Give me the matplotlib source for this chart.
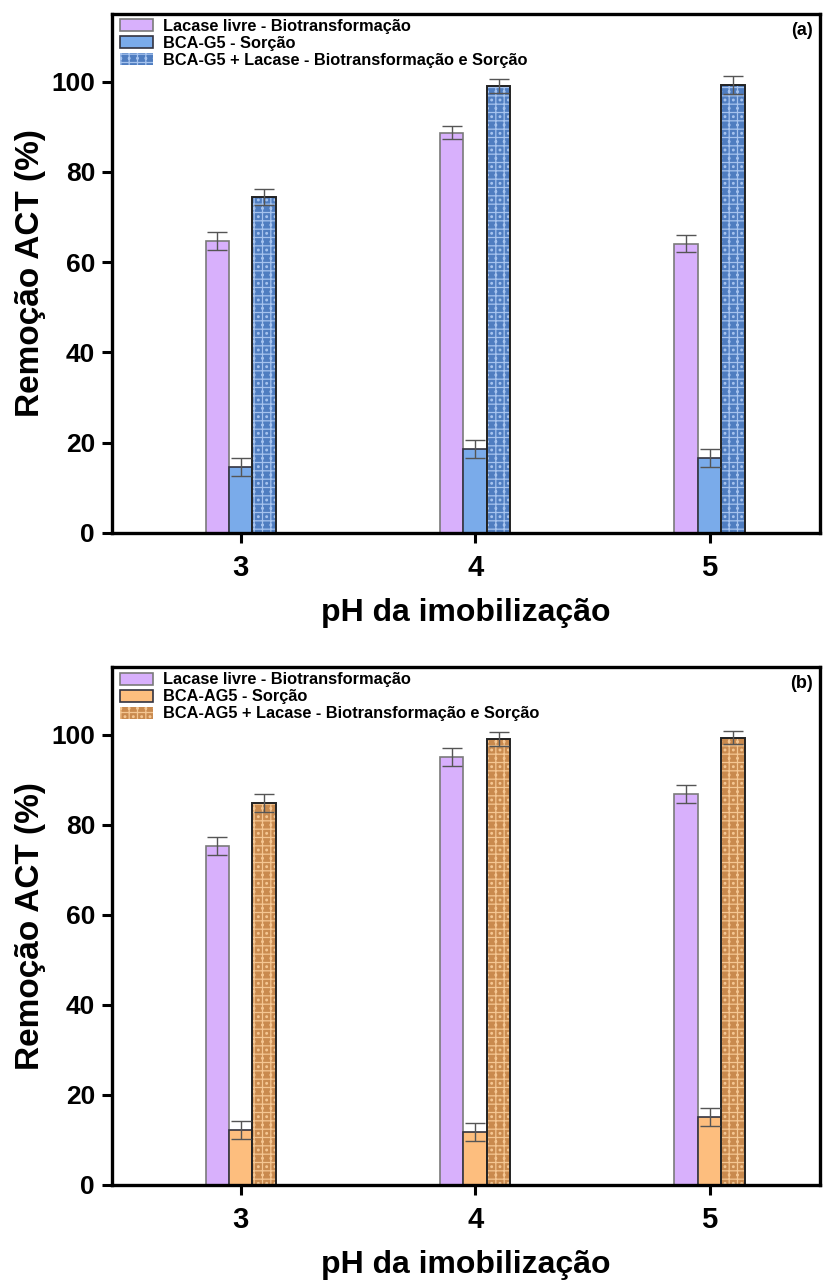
import matplotlib
matplotlib.use("Agg")
import matplotlib.pyplot as plt
import numpy as np

plt.rcParams['font.family'] = ['Liberation Sans', 'DejaVu Sans']
plt.rcParams['font.weight'] = 'bold'
plt.rcParams['hatch.linewidth'] = 0.9

ph = [3, 4, 5]
tick_labels = ['3', '4', '5']

# Panel (a)
lac_a = [64.7, 88.7, 64.1]
lac_a_err = [1.9, 1.4, 1.9]
sor_a = [14.6, 18.6, 16.6]
sor_a_err = [2.0, 1.9, 2.0]
comb_a = [74.5, 99.1, 99.3]
comb_a_err = [1.8, 1.5, 2.0]
labels_a = ['Lacase livre - Biotransformação', 'BCA-G5 - Sorção',
            'BCA-G5 + Lacase - Biotransformação e Sorção']

# Panel (b)
lac_b = [75.4, 95.2, 86.8]
lac_b_err = [2.0, 2.0, 2.0]
sor_b = [12.2, 11.8, 15.0]
sor_b_err = [2.0, 2.0, 2.0]
comb_b = [84.8, 99.1, 99.4]
comb_b_err = [2.0, 1.5, 1.5]
labels_b = ['Lacase livre - Biotransformação', 'BCA-AG5 - Sorção',
            'BCA-AG5 + Lacase - Biotransformação e Sorção']

fig = plt.figure(figsize=(8.28, 12.81), dpi=100)
ax1 = fig.add_axes([0.135, 0.584, 0.855, 0.405])
ax2 = fig.add_axes([0.135, 0.075, 0.855, 0.404])

w = 0.1
err_kw = dict(ecolor='#555555', elinewidth=1.0, capsize=7, capthick=1.0)

def panel(ax, lac, lacerr, sor, sorerr, comb, comberr, labels, c_sor, c_comb, c_hatch, tag):
    x = np.array(ph, dtype=float)
    h1 = ax.bar(x - w, lac, w, yerr=lacerr, color='#D8B0FC', edgecolor='#7A7A7A',
                linewidth=1.2, error_kw=err_kw, label=labels[0])
    h2 = ax.bar(x, sor, w, yerr=sorerr, color=c_sor, edgecolor='#333340',
                linewidth=1.2, error_kw=err_kw, label=labels[1])
    h3 = ax.bar(x + w, comb, w, color=c_comb, edgecolor=c_hatch, hatch='++..',
                linewidth=0, label=labels[2])
    ax.bar(x + w, comb, w, yerr=comberr, color='none', edgecolor='#222222',
           linewidth=1.4, error_kw=err_kw)
    ax.set_xlim(2.45, 5.47)
    ax.set_ylim(0, 115)
    ax.set_xticks(ph)
    ax.set_xticklabels(tick_labels)
    ax.set_yticks([0, 20, 40, 60, 80, 100])
    ax.tick_params(axis='both', width=2.2, length=7, direction='out', pad=5)
    ax.tick_params(axis='y', labelsize=19)
    ax.tick_params(axis='x', labelsize=21, pad=8)
    for s in ax.spines.values():
        s.set_linewidth(2.4)
    ax.set_ylabel('Remoção ACT (%)', fontsize=24, fontweight='bold', labelpad=4)
    ax.set_xlabel('pH da imobilização', fontsize=23, fontweight='bold', labelpad=12)
    for lab in ax.get_xticklabels() + ax.get_yticklabels():
        lab.set_fontweight('bold')
    leg = ax.legend(handles=[h1, h2, h3], loc='upper left', fontsize=11.8,
                    frameon=False, bbox_to_anchor=(0.005, 1.0),
                    borderaxespad=0.0, handlelength=2.0, handleheight=0.75,
                    labelspacing=0.12, borderpad=0.3, handletextpad=0.6)
    for t in leg.get_texts():
        t.set_fontweight('bold')
    ax.text(0.99, 0.985, tag, transform=ax.transAxes, ha='right', va='top',
            fontsize=13, fontweight='bold')

panel(ax1, lac_a, lac_a_err, sor_a, sor_a_err, comb_a, comb_a_err, labels_a,
      '#7AABEA', '#4F7DC0', '#A6C3EE', '(a)')
panel(ax2, lac_b, lac_b_err, sor_b, sor_b_err, comb_b, comb_b_err, labels_b,
      '#FDBE7E', '#C98A4E', '#F4C692', '(b)')

fig.savefig('out.png', dpi=100)
